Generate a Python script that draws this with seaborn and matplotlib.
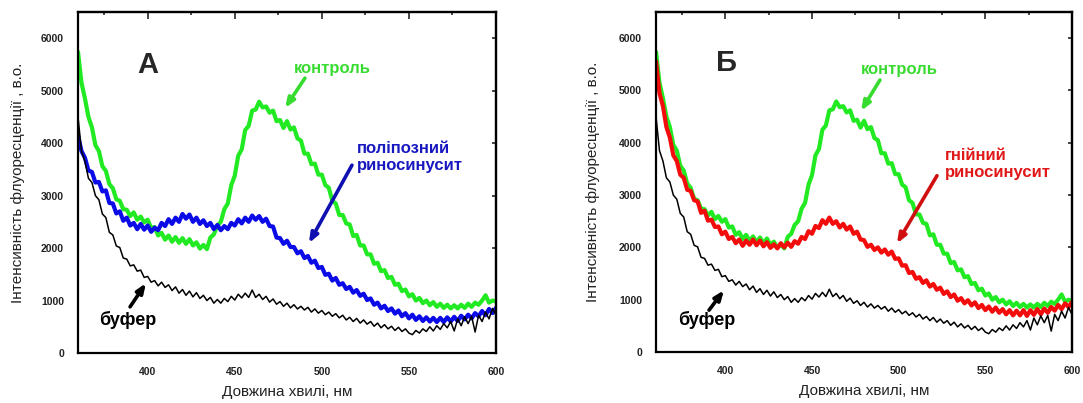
import matplotlib
matplotlib.use("Agg")
import matplotlib.pyplot as plt
from matplotlib.ticker import MultipleLocator
import pandas as pd
import seaborn as sns

# Emission spectra, sampled every 2 nm from 360 to 600 nm
wavelength = list(range(360, 601, 2))

control = [5740, 5150, 4850, 4500, 4300, 3960, 3850, 3560, 3470, 3220,
           3140, 2930, 2900, 2740, 2730, 2610, 2680, 2540, 2600, 2490,
           2540, 2380, 2400, 2240, 2290, 2160, 2240, 2120, 2210, 2100,
           2190, 2080, 2170, 2050, 2110, 1990, 2060, 1980, 2200, 2260,
           2430, 2500, 2740, 2850, 3200, 3380, 3760, 3880, 4250, 4330,
           4620, 4640, 4790, 4680, 4700, 4580, 4620, 4420, 4440, 4290,
           4420, 4260, 4300, 4090, 4050, 3800, 3800, 3600, 3610, 3400,
           3400, 3200, 3150, 2900, 2850, 2630, 2630, 2470, 2450, 2230,
           2250, 2050, 2050, 1880, 1880, 1700, 1720, 1560, 1580, 1430,
           1450, 1300, 1320, 1180, 1210, 1080, 1120, 1000, 1050, 950,
           1000, 910, 970, 880, 940, 860, 920, 850, 910, 850,
           920, 860, 940, 880, 960, 920, 1000, 1100, 960, 1000,
           980]

polyposis = [4150, 3850, 3720, 3480, 3450, 3250, 3260, 3080, 3100, 2860,
             2850, 2660, 2700, 2520, 2580, 2430, 2480, 2360, 2460, 2350,
             2430, 2310, 2390, 2340, 2480, 2420, 2550, 2460, 2580, 2500,
             2650, 2560, 2640, 2500, 2580, 2460, 2530, 2420, 2480, 2360,
             2440, 2340, 2420, 2360, 2480, 2430, 2550, 2470, 2580, 2500,
             2620, 2540, 2610, 2500, 2560, 2420, 2410, 2200, 2190, 2080,
             2140, 2020, 2020, 1900, 1940, 1810, 1850, 1720, 1760, 1620,
             1640, 1490, 1510, 1380, 1430, 1300, 1330, 1220, 1260, 1150,
             1200, 1090, 1130, 1010, 1040, 920, 960, 850, 900, 800,
             850, 750, 810, 700, 760, 660, 730, 630, 700, 610,
             680, 600, 670, 590, 670, 590, 680, 600, 690, 610,
             710, 640, 730, 660, 760, 700, 800, 720, 840, 760,
             860]

purulent = [5560, 4950, 4700, 4300, 4100, 3760, 3650, 3390, 3330, 3100,
            3080, 2900, 2880, 2660, 2700, 2510, 2530, 2390, 2400, 2250,
            2300, 2160, 2200, 2080, 2150, 2030, 2130, 2050, 2150, 2040,
            2130, 2020, 2100, 1990, 2060, 1980, 2080, 2000, 2090, 2010,
            2120, 2070, 2200, 2160, 2310, 2260, 2410, 2370, 2520, 2450,
            2570, 2450, 2500, 2380, 2450, 2340, 2400, 2260, 2300, 2150,
            2140, 2010, 2050, 1950, 2000, 1900, 1960, 1860, 1920, 1780,
            1790, 1650, 1660, 1510, 1530, 1400, 1430, 1320, 1370, 1250,
            1300, 1190, 1230, 1110, 1160, 1050, 1100, 980, 1030, 930,
            990, 890, 950, 840, 900, 800, 870, 770, 850, 750,
            820, 720, 800, 700, 790, 700, 800, 690, 800, 710,
            820, 720, 830, 750, 860, 790, 900, 820, 930, 860,
            960]

buffer_solution = [4500, 3850, 3650, 3330, 3250, 3000, 2920, 2650, 2580, 2300,
                   2250, 2040, 2010, 1810, 1790, 1660, 1680, 1560, 1580, 1440,
                   1460, 1350, 1380, 1280, 1350, 1250, 1300, 1190, 1260, 1140,
                   1210, 1100, 1180, 1070, 1150, 1040, 1100, 1000, 1060, 950,
                   1020, 950, 1040, 980, 1080, 1010, 1120, 1050, 1140, 1060,
                   1200, 1060, 1120, 1020, 1080, 970, 1030, 930, 980, 890,
                   950, 860, 920, 840, 890, 820, 870, 780, 840, 760,
                   810, 730, 780, 700, 750, 670, 720, 630, 680, 600,
                   660, 570, 630, 550, 600, 510, 570, 480, 540, 460,
                   510, 430, 490, 410, 460, 380, 350, 430, 380, 460,
                   410, 500, 420, 520, 450, 560, 480, 600, 420, 650,
                   520, 690, 560, 700, 400, 720, 600, 780, 650, 850,
                   720]

GREEN, BLUE, RED, BLACK = "#22ea22", "#0b0be8", "#f20c0c", "#000000"

df = pd.DataFrame({"wl": wavelength, "control": control, "polyposis": polyposis,
                   "purulent": purulent, "buffer": buffer_solution})

sns.set_style("white")
plt.rcParams["font.family"] = ["Liberation Sans", "DejaVu Sans"]

fig = plt.figure(figsize=(10.83, 4.03), dpi=100)
W, H = 1083, 403
axL = fig.add_axes([78 / W, 1 - 353 / H, 418 / W, 341 / H])
axR = fig.add_axes([656 / W, 1 - 352 / H, 416 / W, 340 / H])


def draw(ax, sample, color):
    sns.lineplot(data=df, x="wl", y="control", ax=ax, color=GREEN, lw=3.0)
    sns.lineplot(data=df, x="wl", y=sample, ax=ax, color=color, lw=3.0)
    sns.lineplot(data=df, x="wl", y="buffer", ax=ax, color=BLACK, lw=1.1)


def style(ax, ylabel_x):
    ax.set_xlim(360, 600)
    ax.set_ylim(0, 6500)
    ax.xaxis.set_major_locator(MultipleLocator(50))
    ax.xaxis.set_minor_locator(MultipleLocator(25))
    ax.yaxis.set_major_locator(MultipleLocator(1000))
    ax.yaxis.set_minor_locator(MultipleLocator(500))
    ax.tick_params(axis="x", which="both", direction="out", length=3, width=1.2,
                   pad=7, labelsize=7.5, labelcolor="#222222")
    ax.tick_params(axis="y", which="major", direction="out", length=5, width=1.2,
                   pad=5, labelsize=7.5, labelcolor="#222222")
    ax.tick_params(axis="y", which="minor", direction="out", length=2.2, width=1.2)
    for lab in ax.get_xticklabels() + ax.get_yticklabels():
        lab.set_fontweight("bold")
    for sp in ax.spines.values():
        sp.set_linewidth(1.6)
        sp.set_color("black")
        sp.set_visible(True)
    top = ax.secondary_xaxis("top")
    top.xaxis.set_major_locator(MultipleLocator(50))
    top.xaxis.set_minor_locator(MultipleLocator(25))
    top.tick_params(which="major", direction="in", length=5, width=1.2, labeltop=False)
    top.tick_params(which="minor", direction="in", length=2.2, width=1.2)
    top.spines["top"].set_linewidth(1.6)
    right = ax.secondary_yaxis("right")
    right.yaxis.set_major_locator(MultipleLocator(1000))
    right.tick_params(which="major", direction="in", length=3, width=1.2, labelright=False)
    right.spines["right"].set_linewidth(1.6)
    ax.set_xlabel("Довжина хвилі, нм", fontsize=11, color="#222222")
    ax.set_ylabel("Інтенсивність флуоресценції , в.о.", fontsize=11, color="#222222")
    ax.xaxis.set_label_coords(0.5, -0.095)
    ax.yaxis.set_label_coords(ylabel_x, 0.5)


def arrow(ax, start, end, color):
    ax.annotate("", xy=end, xytext=start,
                arrowprops=dict(arrowstyle="-|>,head_length=0.55,head_width=0.22",
                                lw=2.6, color=color, shrinkA=0, shrinkB=0))


# Panel А: polypous rhinosinusitis
draw(axL, "polyposis", BLUE)
style(axL, -0.127)
axL.text(400, 5490, "А", fontsize=21, fontweight="bold", ha="center", va="center")
axL.text(505.8, 5430, "контроль", color="#38dc30", fontsize=12, fontweight="bold",
         ha="center", va="center")
arrow(axL, (490.3, 5240), (478.9, 4670), "#38dc30")
axL.text(520.2, 3730, "поліпозний\nриносинусит", color="#1818c0", fontsize=12,
         fontweight="bold", ha="left", va="center", linespacing=1.15)
arrow(axL, (517.3, 3580), (492.6, 2095), "#1010b0")
axL.text(388.7, 630, "буфер", color="black", fontsize=13, fontweight="bold",
         ha="center", va="center")
arrow(axL, (389.9, 880), (399.0, 1330), "black")

# Panel Б: purulent rhinosinusitis
draw(axR, "purulent", RED)
style(axR, -0.135)
axR.text(400.4, 5520, "Б", fontsize=21, fontweight="bold", ha="center", va="center")
axR.text(500.2, 5410, "контроль", color="#38dc30", fontsize=12, fontweight="bold",
         ha="center", va="center")
arrow(axR, (489.2, 5200), (478.3, 4610), "#38dc30")
axR.text(526.7, 3590, "гнійний\nриносинусит", color="#e01818", fontsize=12,
         fontweight="bold", ha="left", va="center", linespacing=1.15)
arrow(axR, (522.1, 3370), (499.0, 2076), "#d01010")
axR.text(389.4, 610, "буфер", color="black", fontsize=13, fontweight="bold",
         ha="center", va="center")
arrow(axR, (390.6, 800), (399.2, 1180), "black")

fig.savefig("out.png", dpi=100)
